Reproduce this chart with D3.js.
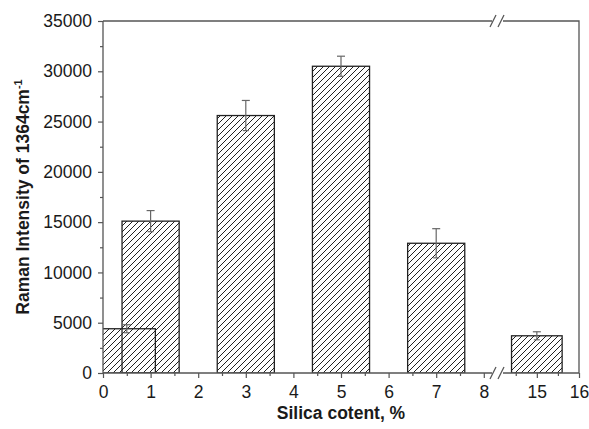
<!DOCTYPE html>
<html lang="en">
<head>
<meta charset="UTF-8">
<title>Raman Intensity vs Silica content</title>
<script src="https://cdnjs.cloudflare.com/ajax/libs/d3/7.8.5/d3.min.js"></script>
<style>
  body { margin: 0; background: #fff; }
  svg { display: block; font-family: "Liberation Sans", Arial, sans-serif; }
</style>
</head>
<body>
<svg id="chart"></svg>
<script>
// data
var silica = [0.5, 1, 3, 5, 7, 15];
var intensity = [4400, 15100, 25600, 30500, 12900, 3700];
var errors = [400, 1050, 1500, 1000, 1450, 400];

var xMajor = [0, 1, 2, 3, 4, 5, 6, 7, 8, 15, 16];
var xMinor = [0.5, 1.5, 2.5, 3.5, 4.5, 5.5, 6.5, 7.5, 14.5, 15.5];
var yMajor = [0, 5000, 10000, 15000, 20000, 25000, 30000, 35000];
var yMinor = [2500, 7500, 12500, 17500, 22500, 27500, 32500];

var width = 589, height = 429;
var mLeft = 103, mRight = 579, mTop = 21, mBottom = 373;
var barWidth = 1.2;
var font = '"Liberation Sans", Arial, sans-serif';

var svg = d3.select('#chart').attr('width', width).attr('height', height);

// broken x axis: 0..8.25 then 14.15..16
var x = d3.scaleLinear()
    .domain([0, 8.25, 14.15, 16])
    .range([mLeft, 495.7, 501, mRight]);
var y = d3.scaleLinear().domain([0, 35000]).range([mBottom, mTop]);

var defs = svg.append('defs');
var pat = defs.append('pattern')
    .attr('id', 'hatch')
    .attr('patternUnits', 'userSpaceOnUse')
    .attr('width', 6).attr('height', 6);
pat.append('path')
    .attr('d', 'M0,6 L6,0 M-1,1 L1,-1 M5,7 L7,5')
    .attr('stroke', '#222').attr('stroke-width', 1);

defs.append('clipPath').attr('id', 'plotclip')
  .append('rect')
    .attr('x', mLeft).attr('y', mTop)
    .attr('width', mRight - mLeft).attr('height', mBottom - mTop);

// bars
var bars = svg.append('g').attr('clip-path', 'url(#plotclip)');
bars.selectAll('rect')
    .data(silica)
  .enter().append('rect')
    .attr('x', function (d) { return x(d - barWidth / 2); })
    .attr('width', function (d) { return x(d + barWidth / 2) - x(d - barWidth / 2); })
    .attr('y', function (d, i) { return y(intensity[i]); })
    .attr('height', function (d, i) { return mBottom - y(intensity[i]); })
    .attr('fill', 'url(#hatch)')
    .attr('stroke', '#222')
    .attr('stroke-width', 1.3);

// error bars
var eb = svg.append('g').attr('stroke', '#666').attr('stroke-width', 1.2);
silica.forEach(function (d, i) {
    var cx = x(d), hi = y(intensity[i] + errors[i]), lo = y(intensity[i] - errors[i]);
    eb.append('line').attr('x1', cx).attr('x2', cx).attr('y1', hi).attr('y2', lo);
    eb.append('line').attr('x1', cx - 4).attr('x2', cx + 4).attr('y1', hi).attr('y2', hi);
    eb.append('line').attr('x1', cx - 3).attr('x2', cx + 3).attr('y1', lo).attr('y2', lo);
});

// axes
var axisColor = '#555';

function styleAxis(g) {
    g.attr('font-family', font).attr('font-size', 17.5);
    g.select('.domain').remove();
    g.selectAll('.tick line').attr('stroke', axisColor).attr('stroke-width', 1.2);
    g.selectAll('.tick text').attr('fill', '#1a1a1a');
}

svg.append('g').attr('transform', 'translate(0,' + mBottom + ')')
    .call(d3.axisBottom(x).tickValues(xMajor).tickFormat(d3.format('d'))
        .tickSize(5).tickPadding(8))
    .call(styleAxis);
svg.append('g').attr('transform', 'translate(0,' + mBottom + ')')
    .call(d3.axisBottom(x).tickValues(xMinor).tickFormat('').tickSize(3))
    .call(styleAxis);

svg.append('g').attr('transform', 'translate(' + mLeft + ',0)')
    .call(d3.axisLeft(y).tickValues(yMajor).tickFormat(d3.format('d'))
        .tickSize(5).tickPadding(6))
    .call(styleAxis);
svg.append('g').attr('transform', 'translate(' + mLeft + ',0)')
    .call(d3.axisLeft(y).tickValues(yMinor).tickFormat('').tickSize(3))
    .call(styleAxis);

// frame with breaks
var frame = svg.append('g').attr('stroke', axisColor).attr('stroke-width', 1.3).attr('fill', 'none');
var b1 = 492, b2 = 500;
frame.append('path').attr('d',
    'M' + mLeft + ',' + mTop + 'V' + mBottom + 'H' + b1 +
    'M' + (b2 + 3) + ',' + mBottom + 'H' + mRight + 'V' + mTop + 'H' + (b2 + 3) +
    'M' + b1 + ',' + mTop + 'H' + mLeft);
// break marks
[b1, b2].forEach(function (bx) {
    frame.append('line').attr('x1', bx - 2).attr('y1', mBottom + 6).attr('x2', bx + 4).attr('y2', mBottom - 6);
    frame.append('line').attr('x1', bx - 2).attr('y1', mTop + 6).attr('x2', bx + 4).attr('y2', mTop - 6);
});

// titles
svg.append('text')
    .attr('x', (mLeft + mRight) / 2).attr('y', 419)
    .attr('text-anchor', 'middle')
    .attr('font-size', 17.5).attr('font-weight', 'bold').attr('fill', '#1a1a1a')
    .text('Silica cotent, %');

var yt = svg.append('text')
    .attr('transform', 'translate(29,' + ((mTop + mBottom) / 2) + ') rotate(-90)')
    .attr('text-anchor', 'middle')
    .attr('font-size', 17.5).attr('font-weight', 'bold').attr('fill', '#1a1a1a');
yt.append('tspan').text('Raman Intensity of 1364cm');
yt.append('tspan').attr('font-size', 11).attr('dy', -7).text('-1');
</script>
</body>
</html>
